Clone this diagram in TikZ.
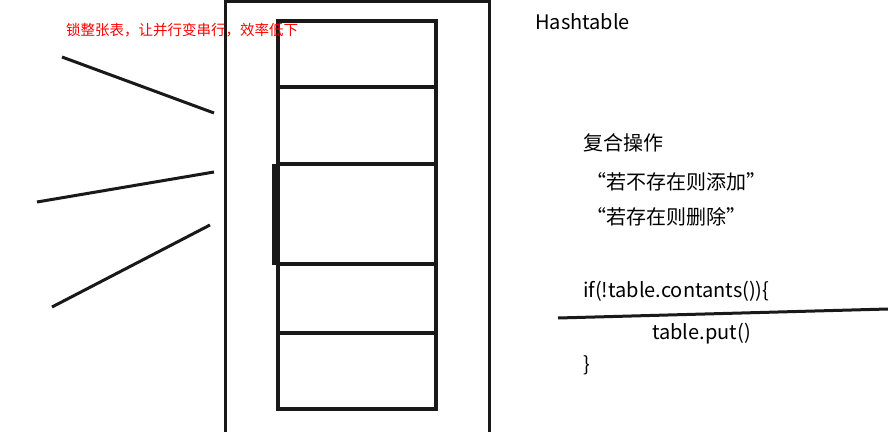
\documentclass[tikz,border=0pt]{standalone}
\usepackage{fontspec}
\setmainfont{Noto Sans CJK SC}
\usetikzlibrary{positioning}

\tikzset{
  pen/.style={line width=3pt, draw=black!90},
  cell/.style={line width=4pt, draw=black!90},
  txt/.style={anchor=west, inner sep=0pt, font=\fontsize{20}{24}\selectfont},
}

\begin{document}
\begin{tikzpicture}[x=1pt, y=-1pt]
        \useasboundingbox (0, 0) rectangle (888, 431);

        % outer box
        \draw [pen] (225.5, 1.5) rectangle (489.5, 433);

        % the table
        \draw [cell] (278, 21) rectangle (436, 87);
        \draw [cell] (278, 87) rectangle (436, 164);
        \draw [cell] (278, 164) rectangle (436, 264);
        \draw [cell] (278, 264) rectangle (436, 333);
        \draw [cell] (278, 333) rectangle (436, 409);
        \fill [black!90] (272, 164) rectangle (279, 265);

        % threads
        \coordinate (t1) at (62, 57);
        \coordinate (t2) at (37, 202);
        \coordinate (t3) at (52, 307);
        \coordinate (h1) at (214, 113);
        \coordinate (h2) at (214, 172);
        \coordinate (h3) at (210, 225);
        \draw [pen] (t1) -- (h1);
        \draw [pen] (t2) -- (h2);
        \draw [pen] (t3) -- (h3);

        \node [txt, text=red, font=\fontsize{14.5}{16}\selectfont] (lock) at (66, 30) {锁整张表，让并行变串行，效率低下};

        \node [txt] (title) at (535, 22) {Hashtable};
        \node [txt] (op) at (583, 143) {复合操作};
        \node [txt] (add) at (586, 182) {“若不存在则添加”};
        \node [txt] (del) at (586, 217) {“若存在则删除”};
        \node [txt] (if) at (583, 291) {if(!table.contants())\{};
        \node [txt] (put) at (652, 334) {table.put()};
        \node [txt] (close) at (583, 365) {\}};

        \coordinate (cut1) at (558, 318);
        \coordinate (cut2) at (888, 309);
        \draw [pen] (cut1) -- (cut2);
      \end{tikzpicture}
\end{document}
